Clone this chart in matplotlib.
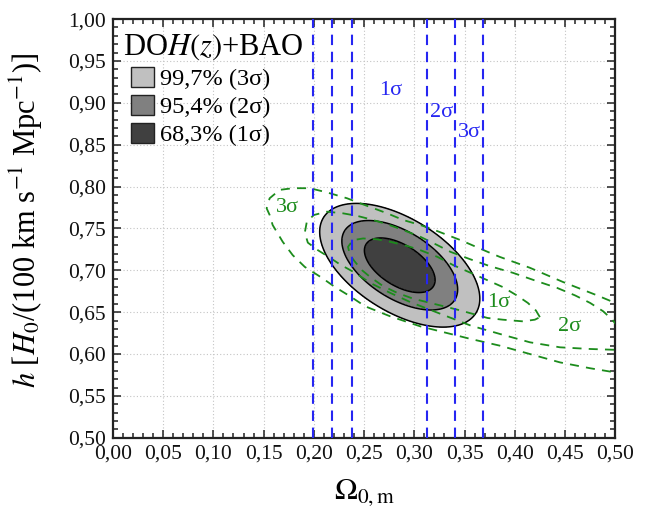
import numpy as np
import matplotlib
matplotlib.use("Agg")
import matplotlib.pyplot as plt
from matplotlib.patches import Patch
from matplotlib.ticker import MultipleLocator, FuncFormatter

plt.rcParams["font.family"] = ["Liberation Serif", "DejaVu Serif"]
plt.rcParams["mathtext.fontset"] = "stix"

# ---- colours ----
GREEN, BLUE, GRID = "#1c8c1c", "#2626f2", "#c4c4c4"
FILL = ["#c0c0c0", "#808080", "#404040"]          # 3σ, 2σ, 1σ

# ---- combined DOH(z)+BAO constraint (gaussian) ----
BEST = (0.2855, 0.706)          # (Ω_0m, h)
SIG = (0.0232, 0.0215)
RHO = -0.54
DCHI2 = [2.30, 6.17, 11.8]      # 1σ, 2σ, 3σ
LEGEND_LABELS = ["99,7% (3σ)", "95,4% (2σ)", "68,3% (1σ)"]

# ---- BAO alone: bounds on Ω_0m (1σ, 2σ, 3σ) ----
BAO_LO = [0.238, 0.218, 0.199]
BAO_HI = [0.3125, 0.340, 0.3685]
BAO_TAG = ["1σ", "2σ", "3σ"]
BAO_TAG_OM = [0.276, 0.327, 0.355]
BAO_TAG_H = [0.915, 0.889, 0.864]

# ---- DOH(z) alone: traced contours ----
HZ1_OM = [0.425, 0.421, 0.413, 0.402, 0.388, 0.373, 0.356, 0.339, 0.323, 0.306,
          0.293, 0.276, 0.263, 0.249, 0.239, 0.234, 0.236, 0.241, 0.248, 0.256,
          0.269, 0.283, 0.299, 0.326, 0.346, 0.373, 0.388, 0.408, 0.420, 0.425]
HZ1_H = [0.644, 0.652, 0.661, 0.670, 0.680, 0.688, 0.697, 0.706, 0.716, 0.724,
         0.729, 0.734, 0.737, 0.738, 0.736, 0.728, 0.718, 0.710, 0.700, 0.692,
         0.681, 0.673, 0.666, 0.658, 0.652, 0.643, 0.641, 0.639, 0.641, 0.644]

HZ2_OM = [0.513, 0.505, 0.497, 0.488, 0.475, 0.460, 0.442, 0.422, 0.398, 0.375,
          0.356, 0.336, 0.323, 0.306, 0.289, 0.273, 0.256, 0.243, 0.229, 0.213,
          0.200, 0.193, 0.191, 0.194, 0.204, 0.216, 0.226, 0.241, 0.256, 0.276,
          0.296, 0.326, 0.356, 0.385, 0.415, 0.445, 0.475, 0.500, 0.513, 0.519, 0.513]
HZ2_H = [0.617, 0.629, 0.641, 0.651, 0.661, 0.670, 0.679, 0.687, 0.697, 0.705,
         0.713, 0.722, 0.730, 0.740, 0.748, 0.755, 0.761, 0.765, 0.768, 0.770,
         0.766, 0.758, 0.745, 0.733, 0.724, 0.715, 0.707, 0.697, 0.685, 0.673,
         0.662, 0.648, 0.634, 0.624, 0.614, 0.608, 0.606, 0.605, 0.607, 0.612, 0.617]

HZ3_OM = [0.510, 0.500, 0.482, 0.448, 0.415, 0.385, 0.373, 0.346, 0.316, 0.306,
          0.289, 0.273, 0.246, 0.233, 0.213, 0.196, 0.179, 0.166, 0.156, 0.153,
          0.156, 0.159, 0.169, 0.179, 0.191, 0.208, 0.221, 0.236, 0.251, 0.276,
          0.306, 0.336, 0.356, 0.385, 0.415, 0.445, 0.475, 0.500, 0.510]
HZ3_H = [0.656, 0.661, 0.670, 0.686, 0.703, 0.716, 0.722, 0.736, 0.750, 0.754,
         0.760, 0.768, 0.780, 0.786, 0.793, 0.798, 0.798, 0.796, 0.786, 0.774,
         0.766, 0.754, 0.734, 0.718, 0.704, 0.691, 0.680, 0.669, 0.657, 0.645,
         0.633, 0.624, 0.618, 0.610, 0.600, 0.590, 0.583, 0.578, 0.576]

HZ_TAG = ["1σ", "2σ", "3σ"]
HZ_TAG_OM = [0.3835, 0.455, 0.1733]
HZ_TAG_H = [0.661, 0.633, 0.7753]


def comma(v, _):
    return f"{v:.2f}".replace(".", ",")


fig = plt.figure(figsize=(6.49, 5.15), dpi=100)
ax = fig.add_axes([0.174, 0.150, 0.774, 0.813])
ax.set_xlim(0.0, 0.5)
ax.set_ylim(0.5, 1.0)
ax.grid(True, which="major", ls=(0, (1, 2)), color=GRID, lw=0.8)
ax.set_axisbelow(True)

# combined contours
om = np.linspace(0.15, 0.45, 500)
hh = np.linspace(0.55, 0.86, 500)
X, Y = np.meshgrid(om, hh)
dx = (X - BEST[0]) / SIG[0]
dy = (Y - BEST[1]) / SIG[1]
chi2 = (dx**2 - 2 * RHO * dx * dy + dy**2) / (1 - RHO**2)
ax.contourf(X, Y, chi2, levels=[0] + DCHI2, colors=FILL[::-1], zorder=2)
ax.contour(X, Y, chi2, levels=DCHI2, colors="black", linewidths=1.1, zorder=3)

# H(z) only
for xs, ys in [(HZ1_OM, HZ1_H), (HZ2_OM, HZ2_H), (HZ3_OM, HZ3_H)]:
    ax.plot(xs, ys, color=GREEN, lw=1.3, ls=(0, (5, 4)), zorder=4)
for t, x, y in zip(HZ_TAG, HZ_TAG_OM, HZ_TAG_H):
    ax.text(x, y, t, color=GREEN, fontsize=16, ha="center", va="center", zorder=6)

# BAO only
for lo, hi in zip(BAO_LO, BAO_HI):
    for v in (lo, hi):
        ax.axvline(v, color=BLUE, lw=1.5, ls=(0, (5, 3.2)), zorder=5)
for t, x, y in zip(BAO_TAG, BAO_TAG_OM, BAO_TAG_H):
    ax.text(x, y, t, color=BLUE, fontsize=16, ha="center", va="center", zorder=6)

# axes styling
ax.xaxis.set_major_locator(MultipleLocator(0.05))
ax.xaxis.set_minor_locator(MultipleLocator(0.01))
ax.yaxis.set_major_locator(MultipleLocator(0.05))
ax.yaxis.set_minor_locator(MultipleLocator(0.01))
ax.xaxis.set_major_formatter(FuncFormatter(comma))
ax.yaxis.set_major_formatter(FuncFormatter(comma))
ax.tick_params(which="both", direction="in", top=True, right=True, width=1.1,
               colors="#222222", labelsize=15.5, labelcolor="#111111")
ax.tick_params(which="major", length=6, pad=5)
ax.tick_params(which="minor", length=3.5)
for s in ax.spines.values():
    s.set_linewidth(1.6)
    s.set_color("#222222")

ax.set_xlabel(r"$\Omega_{\mathrm{0,m}}$", fontsize=22)
ax.xaxis.set_label_coords(0.5, -0.095)
ax.set_ylabel(r"$h$ [$H_0$/(100 km s$^{-1}$ Mpc$^{-1}$)]", fontsize=22)
ax.yaxis.set_label_coords(-0.135, 0.52)

# legend
ax.text(0.02, 0.914, r"DO$\mathit{H(z)}$+BAO", transform=ax.transAxes,
        fontsize=22, va="baseline", zorder=7)
handles = [Patch(facecolor=c, edgecolor="#222222", lw=1.0) for c in FILL]
ax.legend(handles, LEGEND_LABELS, loc="upper left", bbox_to_anchor=(0.035, 0.885),
          frameon=False, fontsize=17.5, handlelength=0.95, handleheight=0.85,
          handletextpad=0.25, labelspacing=0.2, borderaxespad=0, borderpad=0)

fig.savefig("out.png", dpi=100)
